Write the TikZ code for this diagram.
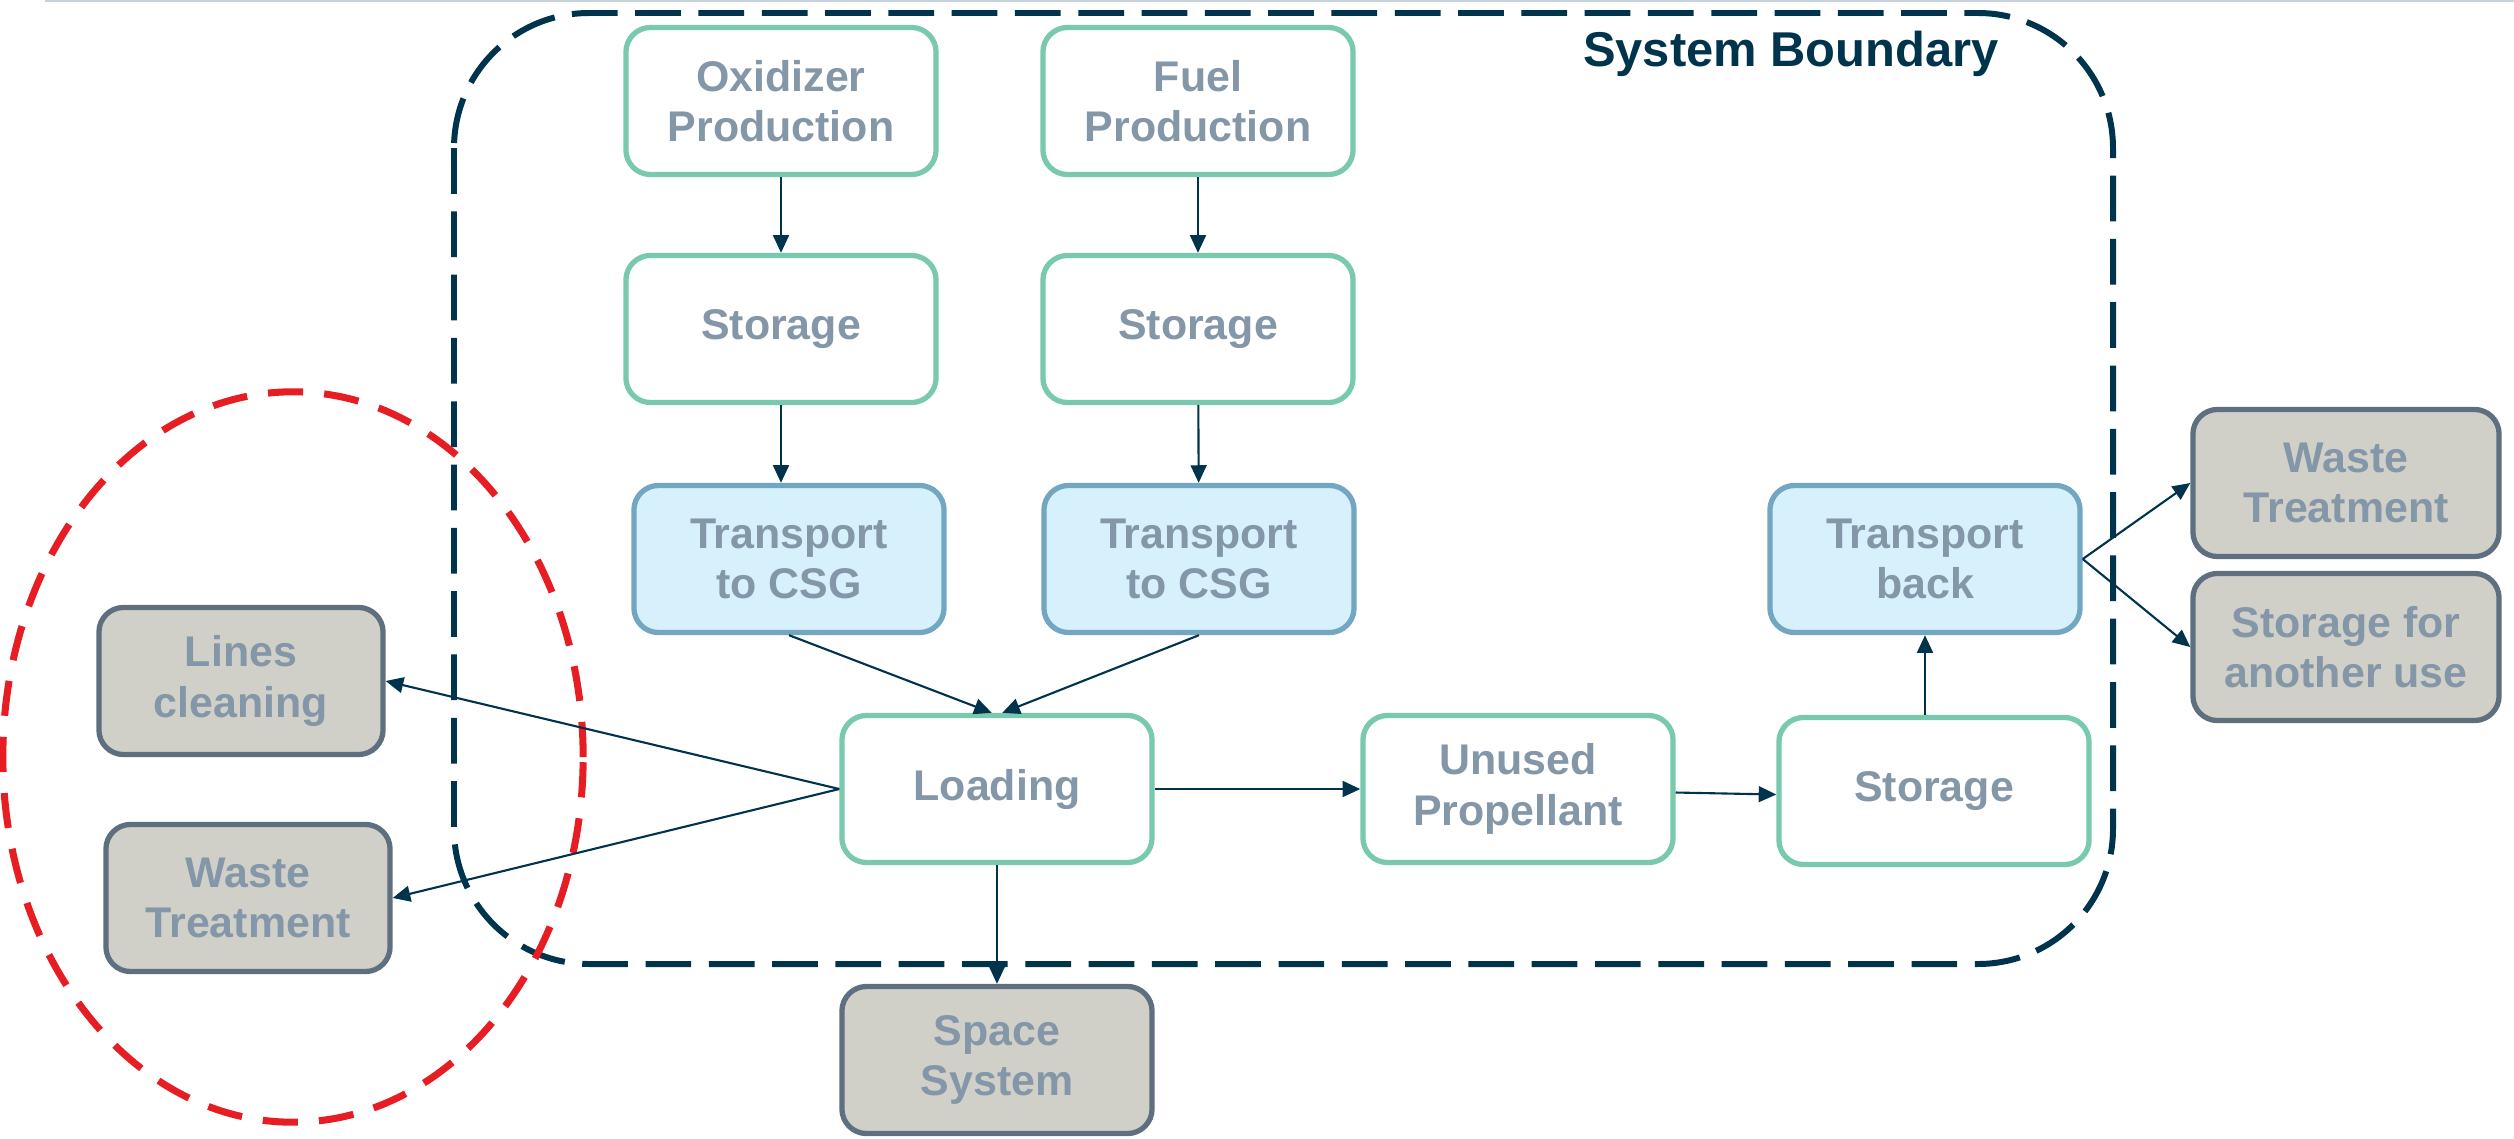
\documentclass[tikz,border=0pt]{standalone}
\usepackage{fontspec}
\setmainfont{Liberation Sans}
\usetikzlibrary{arrows.meta}

\definecolor{navy}{HTML}{00334C}
\definecolor{mint}{HTML}{79C9AC}
\definecolor{skyfill}{HTML}{D6F0FC}
\definecolor{skyline}{HTML}{73A6C0}
\definecolor{stonefill}{HTML}{D0D0C8}
\definecolor{stoneline}{HTML}{5E6F80}
\definecolor{labelgrey}{HTML}{8497A8}
\definecolor{alertred}{HTML}{E61E23}
\definecolor{rulegrey}{HTML}{C8D2DA}

\begin{document}
\begin{tikzpicture}
    [
        x=0.01cm,
        y=-0.01cm,
        process/.style={
                rectangle,
                rounded corners=7pt,
                draw=mint,
                line width=1.5pt,
                fill=white,
                text=labelgrey,
                align=center,
                font=\fontsize{12.2}{14.4}\selectfont\bfseries,
                minimum width=3.1cm,
                minimum height=1.47cm,
                inner sep=0pt,
            },
        transport/.style={
                process,
                draw=skyline,
                fill=skyfill,
            },
        outside/.style={
                process,
                draw=stoneline,
                fill=stonefill,
                minimum width=#1,
            },
        outside/.default=3.1cm,
        flow/.style={
                -{Triangle[length=5pt,width=4.5pt]},
                draw=navy,
                line width=0.6pt,
            },
        boundary/.style={
                draw=navy,
                line width=1.7pt,
                dash pattern=on 13pt off 5pt,
                rounded corners=1.35cm,
            },
        focus/.style={
                draw=alertred,
                line width=2pt,
                dash pattern=on 10pt off 6pt,
            },
    ]

    \useasboundingbox (0,0) rectangle (2514,1139);

    % slide rule along the top
    \draw [rulegrey, line width=0.6pt] (45,1) -- (2514,1);

    % system boundary and the region of interest
    \draw [boundary] (454,13) rectangle (2113,964);
    \node [text=navy, font=\fontsize{13.9}{17}\selectfont\bfseries] (sysname) at (1791,54) {System Boundary};
    \draw [focus] (293,757) ellipse [x radius=2.9cm, y radius=3.65cm];

    % supply chains
    \node [process] (oxprod) at (781,101) {Oxidizer\\Production};
    \node [process] (fuprod) at (1198,101) {Fuel\\Production};
    \node [process] (oxstore) at (781,329) {Storage};
    \node [process] (fustore) at (1198,329) {Storage};
    \node [transport] (oxtrans) at (789,559) {Transport\\to CSG};
    \node [transport] (futrans) at (1199,559) {Transport\\to CSG};

    % launch site
    \node [process] (load) at (997,789) {Loading};
    \node [process] (unused) at (1518,789) {Unused\\Propellant};
    \node [process] (backstore) at (1934,791) {Storage};
    \node [transport] (backtrans) at (1925,559) {Transport\\back};

    % outside the boundary
    \node [outside=2.84cm] (clean) at (241,681) {Lines\\cleaning};
    \node [outside=2.84cm] (wasteleft) at (248,898) {Waste\\Treatment};
    \node [outside] (space) at (997,1060) {Space\\System};
    \node [outside=3.06cm] (wasteright) at (2346,483) {Waste\\Treatment};
    \node [outside=3.06cm] (reuse) at (2346,647) {Storage for\\another use};

    % flows
    \draw [flow] (oxprod) -- (oxstore);
    \draw [flow] (fuprod) -- (fustore);
    \draw [flow] (oxstore) -- (oxstore |- oxtrans.north);
    \draw [flow] (fustore) -- (futrans);
    \draw [flow] (oxtrans.south) -- ([xshift=-1.5pt]load.north);
    \draw [flow] (futrans.south) -- ([xshift=1.5pt]load.north);
    \draw [flow] (load.west) -- (clean.east);
    \draw [flow] (load.west) -- (wasteleft.east);
    \draw [flow] (load) -- (space);
    \draw [flow] (load) -- (unused);
    \draw [flow] ([yshift=-1pt]unused.east) -- ([yshift=-1pt]backstore.west);
    \draw [flow] (backstore.north -| backtrans.south) -- (backtrans.south);
    \draw [flow] (backtrans.east) -- (wasteright.west);
    \draw [flow] (backtrans.east) -- (reuse.west);
\end{tikzpicture}
\end{document}
